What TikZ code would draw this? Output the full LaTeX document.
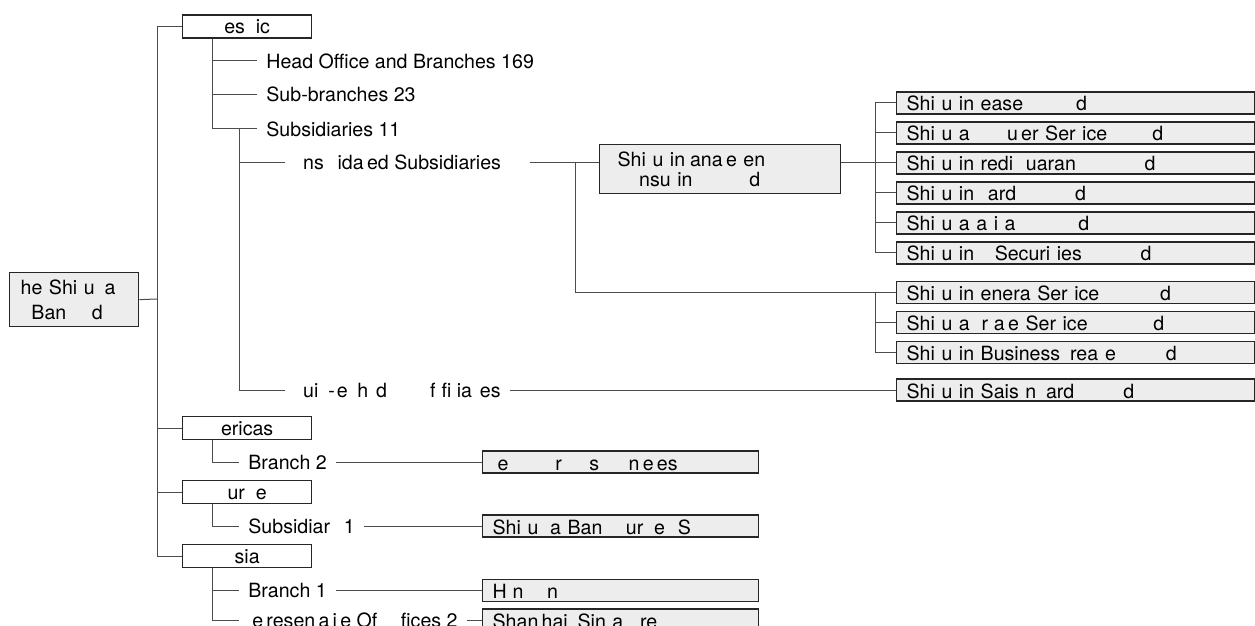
\documentclass[tikz,border=0pt]{standalone}
\usepackage{fontspec}
\setmainfont{TeX Gyre Heros}
\newcommand{\gp}[1]{\hspace*{#1em}}

\begin{document}
\begin{tikzpicture}[
    x=0.5pt, y=-0.5pt,
    font=\fontsize{9.8}{12}\selectfont,
    link/.style={draw=black!70, line width=0.5pt},
    region/.style={draw=black!85, line width=0.65pt, fill=white, anchor=west, minimum width=64.5pt, minimum height=11.5pt, inner sep=0pt, text height=7.5pt, text depth=0pt},
    leaf/.style={draw=black!85, line width=0.65pt, fill=black!7, anchor=west, minimum height=11pt, inner xsep=5pt, inner ysep=0pt, align=left, text width=#1, text height=8pt, text depth=0pt},
    item/.style={anchor=west, inner xsep=4.5pt, inner ysep=1pt, text height=7.4pt, text depth=0pt}
]
\useasboundingbox (0,0) rectangle (1255,626);
\clip (0,0) rectangle (1255,626);

% root
\node[draw=black!85, line width=0.65pt, fill=black!7, anchor=north west, minimum width=64.5pt, minimum height=27pt, inner xsep=5.5pt, text width=53.5pt, align=left, font=\fontsize{9.8}{12.5}\selectfont] (root) at (9,272)
{he Shi u\gp{.5}a\\\gp{.55}Ban\gp{1.3}d};

% regions
\node[region] (domestic) at (182,26.5) {es\gp{.55}ic};
\node[region] (americas) at (182,428) {ericas};
\node[region] (europe) at (182,492) {ur\gp{.55}e};
\node[region] (asia) at (182,556) {sia};

\coordinate (tk) at (157,299);
\draw[link] (root.east) -- (tk);
\foreach \n in {domestic,americas,europe,asia}
  \draw[link] (tk) |- (\n.west);

% domestic
\node[item] (ho) at (257,61) {Head Office and Branches 169};
\node[item] (sb) at (257,94.5) {Sub-branches 23};
\node[item] (subs) at (257,129) {Subsidiaries 11};
\coordinate (jd) at ([xshift=15pt]domestic.south west);
\foreach \n in {ho,sb,subs}
  \draw[link] (jd) |- (\n.west);

\node[item] (cons) at (285,162.5) {\gp{.45}ns\gp{.7}ida\,ed Subsidiaries};
\node[item] (aff) at (285,390) {\gp{.45}ui\gp{.5}-\gp{.1}e\gp{.5}h\gp{.4}d\gp{2.2}f\gp{.3}fi ia\gp{.4}es};
\coordinate (js) at (239,129);
\draw[link] (js) |- (cons.west);
\draw[link] (js) |- (aff.west);

\node[draw=black!85, line width=0.65pt, fill=black!7, anchor=north west, minimum width=120.5pt, minimum height=24.5pt, inner xsep=9pt, text width=102.5pt, align=left, font=\fontsize{9.8}{10}\selectfont] (mgmt) at (599,144)
{Shi u in\gp{.25}ana\,e en\\\gp{1.1}nsu in\gp{2.9}d};
\draw[link] ([xshift=9.75pt]cons.east) -- (cons.east -| mgmt.west);

% subsidiaries
\node[leaf=169pt] (lease) at (896,103) {Shi u in ease\gp{2.7}d};
\node[leaf=169pt] (comp) at (896,133) {Shi u a\gp{1.9}u\,er Ser ice\gp{2.3}d};
\node[leaf=169pt] (credit) at (896,163) {Shi u in redi\gp{.65}uaran\gp{3.5}d};
\node[leaf=169pt] (card) at (896,193) {Shi u in\gp{.7}ard\gp{3}d};
\node[leaf=169pt] (cap) at (896,223) {Shi u a a i a\gp{3.2}d};
\node[leaf=169pt] (sec) at (896,253) {Shi u in\gp{1.05}Securi ies\gp{3}d};
\node[leaf=169pt] (gen) at (896,292.5) {Shi u in enera Ser ice\gp{3.1}d};
\node[leaf=169pt] (trade) at (896,322.5) {Shi u a\gp{.6}r\gp{.3}a\,e Ser ice\gp{3.35}d};
\node[leaf=169pt] (biz) at (896,352.5) {Shi u in Business\gp{.5}rea\gp{.35}e\gp{2.55}d};
\node[leaf=169pt] (sais) at (896,390) {Shi u in Sais n\gp{.5}ard\gp{2.5}d};

\draw[link] (credit.west -| mgmt.east) -- (credit.west);
\coordinate (jr) at (875,163);
\foreach \n in {lease,comp,card,cap,sec}
  \draw[link] (jr) |- (\n.west);
\coordinate (jc) at (575,162.5);
\draw[link] (jc) |- (gen.west);
\coordinate (jg) at (875,292.5);
\foreach \n in {trade,biz}
  \draw[link] (jg) |- (\n.west);
\draw[link] (aff.east) -- (sais.west);

% overseas
\node[item] (br2) at (239,462) {Branch 2};
\node[item] (sub1) at (239,526) {Subsidiar\gp{.7}1};
\node[item] (br1) at (239,590.5) {Branch 1};
\node[item] (rep) at (239,620) {\gp{.2}e\,resen\,a\,i\,e Of\gp{1.2}fices 2};
\coordinate (ja) at ([xshift=15pt]americas.south west);
\coordinate (je) at ([xshift=15pt]europe.south west);
\coordinate (jx) at ([xshift=15pt]asia.south west);
\draw[link] (ja) |- (br2.west);
\draw[link] (je) |- (sub1.west);
\draw[link] (jx) |- (br1.west);
\draw[link] (jx) |- (rep.west);

\node[leaf=128pt] (ny) at (482,462) {\gp{.25}e\gp{2.4}r\gp{1.4}s\gp{1.5}n\,e\,es};
\node[leaf=128pt] (eu) at (482,526) {Shi u\gp{.6}a Ban\gp{1.2}ur\gp{.55}e\gp{.65}S};
\node[leaf=128pt] (hk) at (482,590.5) {H\gp{.3}n\gp{1.2}n};
\node[leaf=128pt] (sh) at (482,620) {Shan\,hai\gp{.5}Sin a\gp{.85}re};

\draw[link] (br2.east) -- (ny.west);
\draw[link] (sub1.east) -- (eu.west);
\draw[link] (br1.east) -- (hk.west);
\draw[link] (rep.east) -- (sh.west);

\end{tikzpicture}
\end{document}
